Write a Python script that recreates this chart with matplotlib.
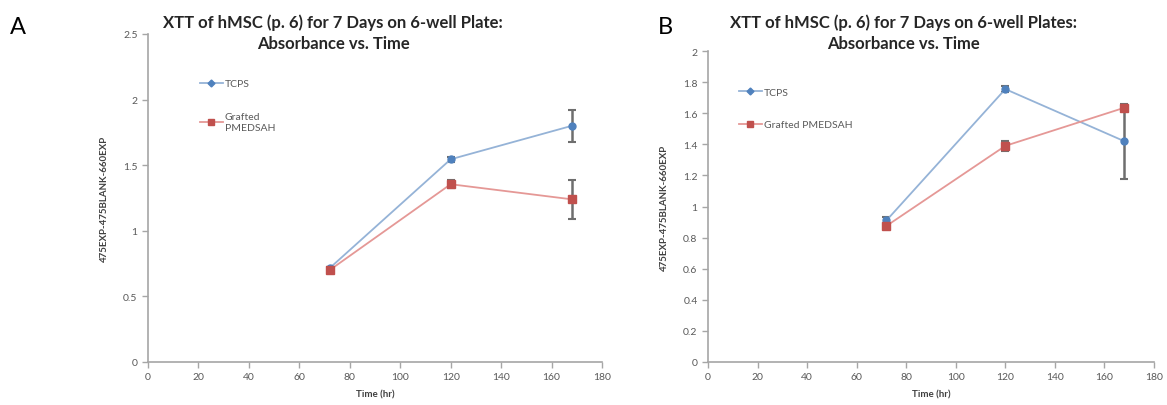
import matplotlib
matplotlib.use("Agg")
import matplotlib.pyplot as plt

plt.rcParams['font.family'] = ['Lato', 'DejaVu Sans']

time_hr = [72, 120, 168]
x_ticks = [0, 20, 40, 60, 80, 100, 120, 140, 160, 180]

# Panel A
a_tcps = [0.715, 1.545, 1.80]
a_tcps_err = [0.01, 0.02, 0.12]
a_graft = [0.70, 1.355, 1.24]
a_graft_err = [0.02, 0.03, 0.15]
a_yticks = [0, 0.5, 1, 1.5, 2, 2.5]
a_yticklabels = ['0', '0.5', '1', '1.5', '2', '2.5']

# Panel B
b_tcps = [0.91, 1.755, 1.42]
b_tcps_err = [0.02, 0.02, 0.24]
b_graft = [0.875, 1.39, 1.635]
b_graft_err = [0.015, 0.03, 0.02]
b_yticks = [0, 0.2, 0.4, 0.6, 0.8, 1.0, 1.2, 1.4, 1.6, 1.8, 2.0]
b_yticklabels = ['0', '0.2', '0.4', '0.6', '0.8', '1', '1.2', '1.4', '1.6', '1.8', '2']

W, H = 1167, 406
fig = plt.figure(figsize=(W / 100, H / 100), dpi=100)

BLUE = '#4F81BD'
RED = '#C0504D'
BLUE_L = '#95B3D7'
RED_L = '#E59896'
AX_C = '#A6A6A6'
TXT = '#595959'


def px_axes(x0, y_top, x1, y_bot):
    return fig.add_axes([x0 / W, (H - y_bot) / H, (x1 - x0) / W, (y_bot - y_top) / H])


def style(ax, yticks, ylabels, ymax):
    ax.set_xlim(0, 180)
    ax.set_ylim(0, ymax)
    ax.set_xticks(x_ticks)
    ax.set_xticklabels([str(t) for t in x_ticks])
    ax.set_yticks(yticks)
    ax.set_yticklabels(ylabels)
    for s in ['top', 'right']:
        ax.spines[s].set_visible(False)
    for s in ['left', 'bottom']:
        ax.spines[s].set_color(AX_C)
        ax.spines[s].set_linewidth(1.2)
    ax.tick_params(axis='both', colors=AX_C, labelcolor=TXT, labelsize=7.5,
                   length=4, width=1, direction='out')
    ax.set_xlabel('Time (hr)', fontsize=7, fontweight='bold', color='#404040', labelpad=6)
    ax.set_ylabel('475EXP-475BLANK-660EXP', fontsize=7, fontweight='bold',
                  color='#404040', labelpad=10)


def draw(ax, tcps, tcps_err, graft, graft_err, graft_label):
    ax.errorbar(time_hr, tcps, yerr=tcps_err, fmt='none', ecolor='#6E6E6E',
                elinewidth=1.8, capsize=3, capthick=1.5, zorder=2)
    ax.errorbar(time_hr, graft, yerr=graft_err, fmt='none', ecolor='#6E6E6E',
                elinewidth=1.8, capsize=3, capthick=1.5, zorder=2)
    ax.plot(time_hr, tcps, color=BLUE_L, lw=1.3, zorder=3)
    ax.plot(time_hr, graft, color=RED_L, lw=1.3, zorder=3)
    ax.plot(time_hr, tcps, ls='none', marker='o', ms=5, color=BLUE, zorder=4)
    ax.plot(time_hr, graft, ls='none', marker='s', ms=5.5, color=RED, zorder=4)
    h1, = ax.plot([], [], color=BLUE_L, lw=1.3, marker='D', ms=3.5, mfc=BLUE, mec=BLUE, label='TCPS')
    h2, = ax.plot([], [], color=RED_L, lw=1.3, marker='s', ms=5, mfc=RED, mec=RED, label=graft_label)
    return h1, h2


axA = px_axes(148, 35, 602, 363)
style(axA, a_yticks, a_yticklabels, 2.5)
h1, h2 = draw(axA, a_tcps, a_tcps_err, a_graft, a_graft_err, 'Grafted\nPMEDSAH')
axA.legend(handles=[h1, h2], loc='upper left', bbox_to_anchor=(0.105, 0.875),
           frameon=False, fontsize=7.5, labelcolor=TXT, handlelength=2.2,
           handletextpad=0.2, labelspacing=2.3, borderaxespad=0)

axB = px_axes(708, 52, 1154, 363)
style(axB, b_yticks, b_yticklabels, 2.0)
h1, h2 = draw(axB, b_tcps, b_tcps_err, b_graft, b_graft_err, 'Grafted PMEDSAH')
axB.legend(handles=[h1, h2], loc='upper left', bbox_to_anchor=(0.06, 0.895),
           frameon=False, fontsize=7.5, labelcolor=TXT, handlelength=2.2,
           handletextpad=0.2, labelspacing=2.2, borderaxespad=0)

fig.text(333 / W, 1 - 33 / H, 'XTT of hMSC (p. 6) for 7 Days on 6-well Plate:\nAbsorbance vs. Time',
         ha='center', va='center', fontsize=12, fontweight='bold', color='#262626',
         linespacing=1.35)
fig.text(903 / W, 1 - 33 / H, 'XTT of hMSC (p. 6) for 7 Days on 6-well Plates:\nAbsorbance vs. Time',
         ha='center', va='center', fontsize=12, fontweight='bold', color='#262626',
         linespacing=1.35)
fig.text(18 / W, 1 - 27 / H, 'A', ha='center', va='center', fontsize=17, color='black')
fig.text(665 / W, 1 - 27 / H, 'B', ha='center', va='center', fontsize=17, color='black')

fig.savefig('out.png', dpi=100)
